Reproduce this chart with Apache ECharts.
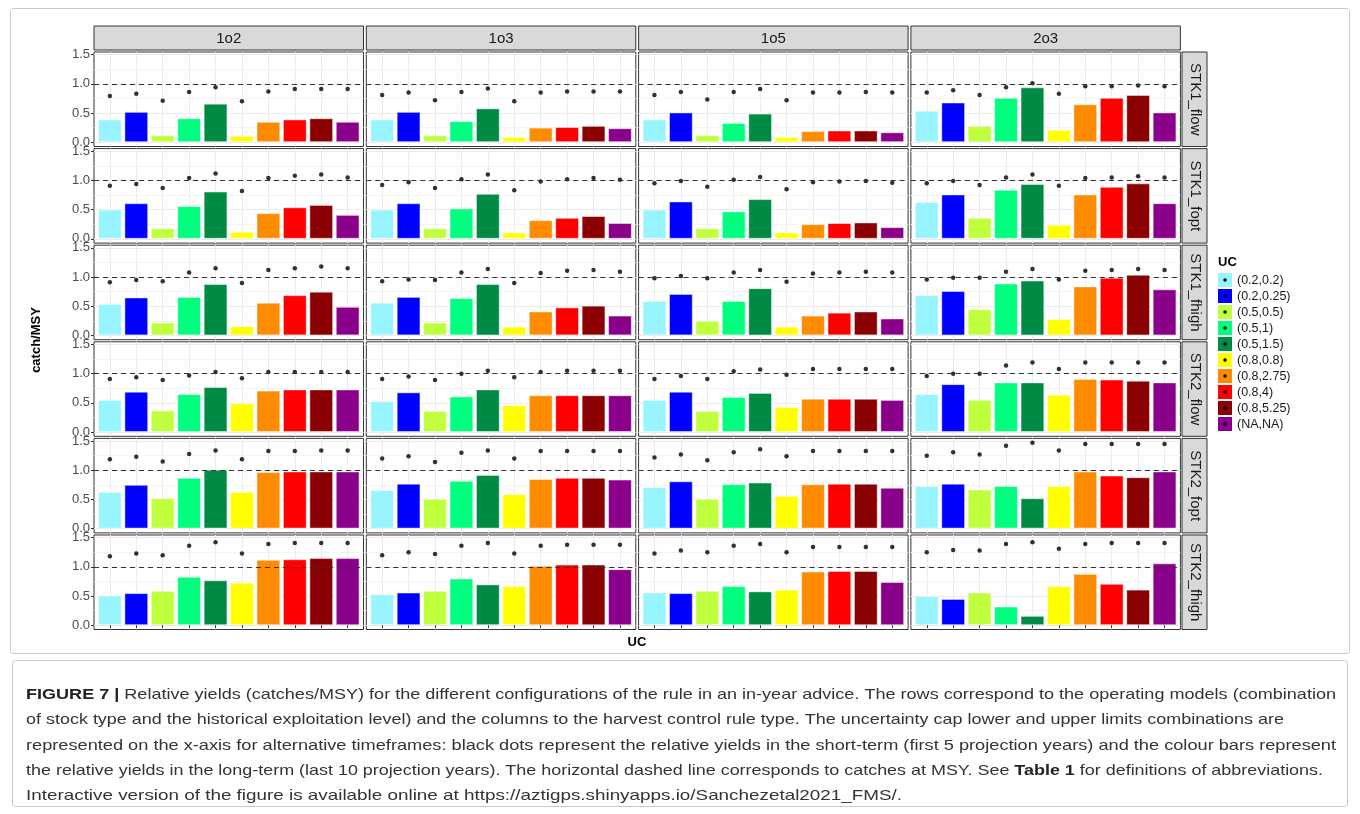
<!DOCTYPE html>
<html>
<head>
<meta charset="utf-8">
<title>Relative yields</title>
<script src="https://cdn.jsdelivr.net/npm/echarts@6/dist/echarts.min.js"></script>
<style>
html,body{margin:0;padding:0;background:#fff;}
#main{width:1360px;height:814px;}
</style>
</head>
<body>
<div id="main"></div>
<script>
const ucLevels = ['(0.2,0.2)','(0.2,0.25)','(0.5,0.5)','(0.5,1)','(0.5,1.5)','(0.8,0.8)','(0.8,2.75)','(0.8,4)','(0.8,5.25)','(NA,NA)'];
const ucColors = ['#98F5FF','#0000FF','#C0FF3E','#00FF7F','#008B45','#FFFF00','#FF8C00','#FF0000','#8B0000','#8B008B'];
const hcrTypes = ['1o2','1o3','1o5','2o3'];
const omNames = ['STK1_flow','STK1_fopt','STK1_fhigh','STK2_flow','STK2_fopt','STK2_fhigh'];
const yTicks = [0, 0.5, 1.0, 1.5];
const yMinorTicks = [0.25, 0.75, 1.25];
const msyLine = 1.0;

// long-term catch/MSY (bars), one list per HCR column: 1o2, 1o3, 1o5, 2o3
const longSTK1flow = [
  [0.39,0.52,0.12,0.41,0.66,0.11,0.35,0.39,0.41,0.35],
  [0.39,0.52,0.12,0.36,0.58,0.09,0.25,0.26,0.28,0.24],
  [0.39,0.51,0.12,0.33,0.49,0.09,0.19,0.20,0.20,0.17],
  [0.54,0.68,0.28,0.76,0.94,0.21,0.65,0.76,0.81,0.51]];
const longSTK1fopt = [
  [0.50,0.61,0.18,0.56,0.81,0.12,0.44,0.54,0.58,0.41],
  [0.50,0.61,0.18,0.52,0.77,0.11,0.32,0.36,0.39,0.27],
  [0.50,0.64,0.18,0.47,0.68,0.11,0.25,0.27,0.28,0.20],
  [0.63,0.76,0.36,0.84,0.94,0.24,0.76,0.89,0.95,0.61]];
const longSTK1fhigh = [
  [0.54,0.65,0.22,0.66,0.88,0.16,0.56,0.69,0.75,0.49],
  [0.56,0.66,0.22,0.64,0.88,0.15,0.41,0.48,0.51,0.34],
  [0.59,0.71,0.25,0.59,0.81,0.15,0.34,0.39,0.41,0.29],
  [0.69,0.76,0.45,0.89,0.94,0.28,0.84,0.99,1.04,0.79]];
const longSTK2flow = [
  [0.55,0.69,0.37,0.65,0.77,0.49,0.71,0.73,0.73,0.73],
  [0.53,0.68,0.36,0.61,0.73,0.46,0.63,0.63,0.63,0.63],
  [0.55,0.69,0.36,0.60,0.67,0.43,0.57,0.57,0.57,0.55],
  [0.65,0.82,0.55,0.85,0.85,0.64,0.91,0.90,0.88,0.85]];
const longSTK2fopt = [
  [0.63,0.75,0.52,0.87,1.01,0.63,0.97,0.98,0.98,0.98],
  [0.66,0.77,0.51,0.82,0.92,0.59,0.85,0.87,0.87,0.84],
  [0.71,0.81,0.51,0.76,0.79,0.56,0.76,0.77,0.77,0.70],
  [0.73,0.77,0.67,0.73,0.52,0.73,0.98,0.91,0.88,0.98]];
const longSTK2fhigh = [
  [0.51,0.55,0.59,0.83,0.77,0.73,1.12,1.13,1.15,1.15],
  [0.53,0.56,0.59,0.80,0.70,0.67,1.02,1.04,1.04,0.96],
  [0.56,0.55,0.59,0.67,0.58,0.61,0.92,0.93,0.93,0.74],
  [0.50,0.45,0.56,0.32,0.16,0.67,0.88,0.71,0.61,1.06]];

// short-term catch/MSY (black dots)
const shortSTK1flow = [
  [0.79,0.83,0.71,0.86,0.94,0.70,0.87,0.91,0.91,0.91],
  [0.81,0.85,0.72,0.86,0.92,0.70,0.85,0.87,0.87,0.87],
  [0.81,0.86,0.73,0.86,0.91,0.72,0.85,0.85,0.86,0.85],
  [0.85,0.89,0.81,0.94,1.01,0.83,0.96,0.96,0.97,0.96]];
const shortSTK1fopt = [
  [0.91,0.94,0.87,1.04,1.12,0.82,1.04,1.08,1.10,1.05],
  [0.92,0.97,0.87,1.02,1.10,0.83,0.98,1.02,1.04,1.01],
  [0.95,0.99,0.89,1.01,1.06,0.85,0.97,0.98,0.99,0.96],
  [0.95,0.99,0.92,1.05,1.10,0.91,1.04,1.05,1.07,1.05]];
const shortSTK1fhigh = [
  [0.91,0.95,0.93,1.08,1.15,0.90,1.12,1.15,1.18,1.15],
  [0.93,0.96,0.95,1.08,1.14,0.90,1.07,1.11,1.12,1.09],
  [0.98,1.02,0.98,1.08,1.12,0.92,1.06,1.08,1.09,1.08],
  [0.96,0.99,0.99,1.09,1.14,0.96,1.11,1.12,1.14,1.12]];
const shortSTK2flow = [
  [0.91,0.94,0.89,0.97,1.03,0.92,1.03,1.03,1.03,1.03],
  [0.91,0.95,0.89,1.00,1.05,0.94,1.03,1.05,1.05,1.05],
  [0.91,0.96,0.91,1.04,1.07,0.98,1.08,1.08,1.08,1.08],
  [0.96,1.00,1.00,1.14,1.19,1.08,1.19,1.19,1.19,1.19]];
const shortSTK2fopt = [
  [1.19,1.23,1.15,1.28,1.34,1.19,1.33,1.33,1.34,1.34],
  [1.20,1.24,1.14,1.30,1.34,1.20,1.33,1.33,1.33,1.33],
  [1.22,1.27,1.17,1.31,1.36,1.24,1.33,1.33,1.33,1.33],
  [1.25,1.31,1.27,1.42,1.47,1.34,1.45,1.45,1.45,1.45]];
const shortSTK2fhigh = [
  [1.18,1.23,1.20,1.36,1.42,1.23,1.39,1.41,1.41,1.41],
  [1.20,1.25,1.22,1.36,1.41,1.23,1.36,1.38,1.38,1.38],
  [1.23,1.28,1.25,1.36,1.39,1.25,1.34,1.34,1.34,1.34],
  [1.25,1.29,1.28,1.39,1.42,1.31,1.39,1.41,1.41,1.41]];

const longRows = [longSTK1flow, longSTK1fopt, longSTK1fhigh, longSTK2flow, longSTK2fopt, longSTK2fhigh];
const shortRows = [shortSTK1flow, shortSTK1fopt, shortSTK1fhigh, shortSTK2flow, shortSTK2fopt, shortSTK2fhigh];

// caption, one entry per printed line; bold parts marked {b|...}
const captionLines = [
  '{b|FIGURE 7 |} Relative yields (catches/MSY) for the different configurations of the rule in an in-year advice. The rows correspond to the operating models (combination',
  'of stock type and the historical exploitation level) and the columns to the harvest control rule type. The uncertainty cap lower and upper limits combinations are',
  'represented on the x-axis for alternative timeframes: black dots represent the relative yields in the short-term (first 5 projection years) and the colour bars represent',
  'the relative yields in the long-term (last 10 projection years). The horizontal dashed line corresponds to catches at MSY. See {b|Table 1} for definitions of abbreviations.',
  'Interactive version of the figure is available online at https://aztigps.shinyapps.io/Sanchezetal2021_FMS/.'
];
const captionRight = [1336, 1284, 1336, 1323, 902];   // right edge of each line in the picture

// layout
const FONT = '"Liberation Sans", Arial, sans-serif';
const panelLeft0 = 94, pitchX = 272.3, panelW = 269.5;
const panelTop0 = 52, pitchY = 96.6, panelH = 94.5;
const yMin = -0.074, yMax = 1.546;   // ggplot-like 5% expansion
const xMin = 0.4, xMax = 10.6;       // discrete expansion of 0.6
const xPos = ucLevels.map((d, i) => i + 1);
const barW = panelW / (xMax - xMin) * 0.9;
const capLeft = 26, capSize = 15;

// width of a caption line as drawn at capSize
const ctx = document.createElement('canvas').getContext('2d');
function lineWidth(line) {
  let w = 0;
  line.split(/(\{b\|[^}]*\})/).forEach(function(part) {
    if (!part) return;
    const m = part.match(/^\{b\|([^}]*)\}$/);
    ctx.font = (m ? 'bold ' : '') + capSize + 'px ' + FONT;
    w += ctx.measureText(m ? m[1] : part).width;
  });
  return w;
}

const grids = [], xAxes = [], yAxes = [], series = [];
omNames.forEach(function(om, r) {
  hcrTypes.forEach(function(hcr, c) {
    const idx = r * hcrTypes.length + c;
    grids.push({
      left: panelLeft0 + c * pitchX, top: panelTop0 + r * pitchY,
      width: panelW, height: panelH,
      show: true, backgroundColor: '#fff', borderColor: '#333', borderWidth: 1
    });
    xAxes.push({
      gridIndex: idx, type: 'value', min: xMin, max: xMax,
      axisLine: { show: false },
      axisLabel: { show: false },
      axisTick: { show: r === omNames.length - 1, customValues: xPos, length: 3, lineStyle: { color: '#333' } },
      splitLine: { show: true, lineStyle: { color: '#ebebeb', width: 1 } }
    });
    yAxes.push({
      gridIndex: idx, type: 'value', min: yMin, max: yMax, position: 'left',
      axisLine: { show: false },
      axisTick: { show: c === 0, customValues: yTicks, length: 3, lineStyle: { color: '#333' } },
      axisLabel: { show: c === 0, customValues: yTicks, formatter: v => v.toFixed(1), color: '#4d4d4d', fontSize: 13, fontFamily: FONT, margin: 4 },
      splitLine: { show: true, lineStyle: { color: '#ebebeb', width: 1 } }
    });
    // minor grid lines
    yAxes.push({
      gridIndex: idx, type: 'value', min: yMin, max: yMax, position: 'right',
      axisLine: { show: false },
      axisTick: { show: false, customValues: yMinorTicks },
      axisLabel: { show: false },
      splitLine: { show: true, lineStyle: { color: '#f4f4f4', width: 1 } }
    });
    series.push({
      type: 'bar', xAxisIndex: idx, yAxisIndex: idx * 2,
      barWidth: barW,
      itemStyle: { borderColor: 'rgba(255,255,255,0.45)', borderWidth: 1 },
      data: longRows[r][c].map((v, i) => ({ value: [xPos[i], v], itemStyle: { color: ucColors[i] } })),
      markLine: {
        silent: true, symbol: 'none', label: { show: false },
        lineStyle: { color: '#333', type: [5, 4], width: 1 },
        data: [{ yAxis: msyLine }]
      }
    });
    series.push({
      type: 'scatter', xAxisIndex: idx, yAxisIndex: idx * 2,
      symbolSize: 4.5, itemStyle: { color: '#000' }, z: 4,
      data: shortRows[r][c].map((v, i) => [xPos[i], v])
    });
  });
});

const graphics = [];
// frames around figure and caption
graphics.push({ type: 'rect', shape: { x: 10.5, y: 8.5, width: 1339, height: 645, r: 3 }, style: { fill: 'none', stroke: '#c8c8c8', lineWidth: 1 } });
graphics.push({ type: 'rect', shape: { x: 12.5, y: 660.5, width: 1335, height: 146, r: 3 }, style: { fill: 'none', stroke: '#c8c8c8', lineWidth: 1 } });

// column strips
hcrTypes.forEach(function(hcr, c) {
  const x = panelLeft0 + c * pitchX;
  graphics.push({ type: 'rect', shape: { x: x, y: 26, width: panelW, height: 24 }, style: { fill: '#d9d9d9', stroke: '#333', lineWidth: 1 } });
  graphics.push({ type: 'text', x: x + panelW / 2, y: 38.5, style: { text: hcr, textAlign: 'center', textVerticalAlign: 'middle', fontSize: 15, fontFamily: FONT, fill: '#1a1a1a' } });
});
// row strips
omNames.forEach(function(om, r) {
  const y = panelTop0 + r * pitchY;
  graphics.push({ type: 'rect', shape: { x: 1182, y: y, width: 25, height: panelH }, style: { fill: '#d9d9d9', stroke: '#333', lineWidth: 1 } });
  graphics.push({ type: 'text', x: 1195, y: y + panelH / 2, rotation: -Math.PI / 2, style: { text: om, textAlign: 'center', textVerticalAlign: 'middle', fontSize: 15, fontFamily: FONT, fill: '#1a1a1a' } });
});
// axis titles
graphics.push({ type: 'text', x: 36, y: 340, rotation: Math.PI / 2, style: { text: 'catch/MSY', textAlign: 'center', textVerticalAlign: 'middle', fontSize: 13, fontWeight: 'bold', fontFamily: FONT, fill: '#000' } });
graphics.push({ type: 'text', x: 637, y: 642, style: { text: 'UC', textAlign: 'center', textVerticalAlign: 'middle', fontSize: 13, fontWeight: 'bold', fontFamily: FONT, fill: '#000' } });

// legend
graphics.push({ type: 'text', x: 1218, y: 262, style: { text: 'UC', textAlign: 'left', textVerticalAlign: 'middle', fontSize: 13, fontWeight: 'bold', fontFamily: FONT, fill: '#000' } });
ucLevels.forEach(function(lv, i) {
  const y = 273 + i * 16;
  graphics.push({ type: 'rect', shape: { x: 1218, y: y, width: 14, height: 14 }, style: { fill: ucColors[i] } });
  graphics.push({ type: 'circle', shape: { cx: 1225, cy: y + 7, r: 1.7 }, style: { fill: '#000' } });
  graphics.push({ type: 'text', x: 1237, y: y + 7.5, style: { text: lv, textAlign: 'left', textVerticalAlign: 'middle', fontSize: 12.5, fontFamily: FONT, fill: '#1a1a1a' } });
});

// caption: the printed face is wider than Arial, so each line is stretched to its width
captionLines.forEach(function(line, i) {
  graphics.push({
    type: 'text', x: capLeft, y: 695 + i * 25.3,
    scaleX: (captionRight[i] - capLeft) / lineWidth(line),
    style: {
      text: line, textAlign: 'left', textVerticalAlign: 'middle',
      fontSize: capSize, fontFamily: FONT, fill: '#333',
      rich: { b: { fontSize: capSize, fontFamily: FONT, fontWeight: 'bold', fill: '#222' } }
    }
  });
});

const chart = echarts.init(document.getElementById('main'));
chart.setOption({
  animation: false,
  backgroundColor: '#fff',
  grid: grids,
  xAxis: xAxes,
  yAxis: yAxes,
  series: series,
  graphic: { elements: graphics }
});
</script>
</body>
</html>
